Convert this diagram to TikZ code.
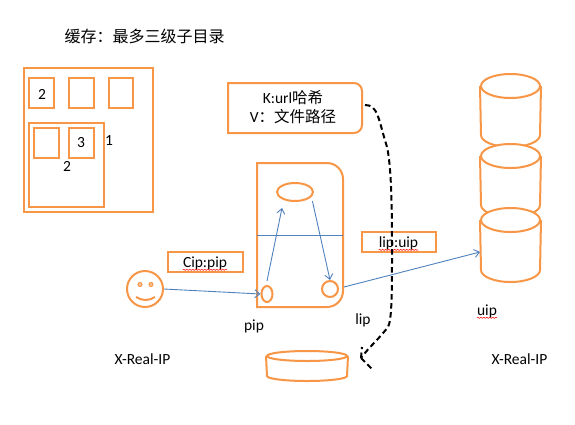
\documentclass[tikz,border=0pt]{standalone}
\usepackage{fontspec}
\setmainfont{Carlito}
\newfontfamily\cjk{Noto Sans CJK SC}
\newcommand{\cjklabelfont}{\fontsize{15.5}{18}\selectfont\cjk}
\usetikzlibrary{shapes.geometric,arrows.meta,decorations.pathmorphing}

\definecolor{boxorange}{HTML}{F79646}
\definecolor{linkblue}{HTML}{4F81BD}

\tikzset{
    boxline/.style = {draw=boxorange, line width=2pt},
    folder/.style = {boxline, rectangle, inner sep=0pt, minimum width=#1, minimum height=30pt},
    disc/.style = {boxline, ellipse, inner sep=0pt, fill=white},
    textlabel/.style = {inner sep=0pt, font=\fontsize{15.5}{18}\selectfont, text=black},
    cjklabel/.style = {inner sep=0pt, font=\fontsize{16}{18}\selectfont\cjk, text=black},
    link/.style = {draw=linkblue, line width=0.9pt},
    linkarrow/.style = {link, ->, >={Straight Barb[length=5pt,width=8pt]}},
    spell/.style = {draw=red, line width=0.5pt, decorate, decoration={snake, amplitude=0.6pt, segment length=3pt}},
    dashline/.style = {draw=black, line width=2pt, dash pattern=on 5.5pt off 3.5pt}
}

% Box with its upper right corner rounded: x1, y1, x2, y2, radius
\newcommand{\CornerBox}[5]{
    \draw[boxline] (#1,#2) [rounded corners=#5pt] -- (#3,#2) -- (#3,#4) [sharp corners] -- (#1,#4) -- cycle;
}
% Barrel: name, centre x, y of top ellipse, y of bottom, x radius, y radius
\newcommand{\Barrel}[6]{
    \node[disc, minimum width=#5*2pt, minimum height=#6*2pt] (#1) at (#2,#3) {};
    \draw[boxline] (#1.west) -- (#2-#5,#4-#6)
        .. controls +(0,.55*#6) and +(-.55*#5,0) .. (#2,#4)
        .. controls +(.55*#5,0) and +(0,.55*#6) .. (#2+#5,#4-#6) -- (#1.east);
}

\begin{document}
\begin{tikzpicture}[x=1pt,y=-1pt]
    \useasboundingbox (0,0) rectangle (575,424);

    % Cache folders
    \node[cjklabel] (title) at (144.5,36) {缓存：最多三级子目录};
    \draw[boxline] (24,68) rectangle (153,212);
    \draw[boxline] (29,123) rectangle (104,207);
    \node[folder=25pt] (dir1) at (41.5,93) {};
    \node[folder=25pt] (dir2) at (81.5,93) {};
    \node[folder=24pt] (dir3) at (121,93) {};
    \node[folder=25pt] (dir4) at (46.5,143) {};
    \node[folder=25pt] (dir5) at (81.5,143) {};
    \node[textlabel] (two1) at (42,94) {2};
    \node[textlabel] (three) at (81,143) {3};
    \node[textlabel] (one) at (109,141) {1};
    \node[textlabel] (two2) at (67,166) {2};

    % Key and value
    \CornerBox{228}{83}{362}{133}{8}
    \node[textlabel] (key) at (293,98) {K:url{\cjklabelfont 哈希}};
    \node[textlabel] (value) at (293,117) {V{\cjklabelfont ：文件路径}};
    \coordinate (keyout) at (365,105);

    % Server
    \CornerBox{257}{163}{343}{307}{16}
    \coordinate (serverw) at (257,235);
    \coordinate (servere) at (343,235);
    \node[disc, minimum width=36pt, minimum height=18pt] (cache) at (295,192) {};
    \node[disc, minimum width=11pt, minimum height=16pt] (pipdot) at (267,294) {};
    \node[disc, minimum width=16pt, minimum height=16pt] (lipdot) at (330,289) {};
    \draw[link] (serverw) -- (servere);

    % Client
    \node[boxline, circle, minimum size=36pt, inner sep=0pt] (client) at (145,289) {};
    \node[boxline, circle, minimum size=4pt, inner sep=0pt, line width=1pt, fill=boxorange!60] (eyel) at (140,284.5) {};
    \node[boxline, circle, minimum size=4pt, inner sep=0pt, line width=1pt, fill=boxorange!60] (eyer) at (151,284.5) {};
    \coordinate (mouthl) at (136,297);
    \coordinate (mouthr) at (155,297);
    \draw[boxline] (mouthl) .. controls (142,301) and (149,301) .. (mouthr);

    % Backends
    \Barrel{backa}{510.5}{86}{147}{29.5}{12}
    \Barrel{backb}{510.5}{156}{217}{29.5}{12}
    \Barrel{backc}{510.5}{220}{282}{29.5}{12}
    \Barrel{store}{307}{356}{381}{40}{5}

    % Address labels
    \draw[boxline] (168,252) rectangle (243,272);
    \draw[boxline] (362,232) rectangle (436,252);
    \node[textlabel] (cippip) at (205,263) {Cip:pip};
    \node[textlabel] (lipuip) at (398.5,243) {lip:uip};
    \node[textlabel] (pip) at (254,326) {pip};
    \node[textlabel] (lip) at (363,320) {lip};
    \node[textlabel] (uip) at (487,311) {uip};
    \node[textlabel] (realipa) at (142.5,359) {X-Real-IP};
    \node[textlabel] (realipb) at (519.5,359) {X-Real-IP};
    \draw[spell] (cippip.south west) -- (cippip.south east);
    \draw[spell] (lipuip.south west) -- (lipuip.south east);
    \draw[spell] (uip.south west) -- (uip.south east);

    % Links
    \draw[linkarrow] (client.east) -- (pipdot.west);
    \draw[linkarrow] (pipdot.north) ++(0,-4) -- (282,208);
    \draw[linkarrow] (cache.south east) ++(4,2) -- (lipdot.north);
    \draw[linkarrow] (lipdot.east) ++(5,-2) -- (backc.west |- 0,252);

    % Dashed path
    \coordinate (dashend) at (361,358);
    \coordinate (barba) at (362,347);
    \coordinate (barbb) at (373,370);
    \draw[dashline] (keyout) .. controls (378,105) and (378,118) .. (387,147)
        .. controls (391,165) and (392,200) .. (392,250)
        .. controls (392,290) and (392,320) .. (388,327)
        .. controls (378,340) and (370,346) .. (dashend);
    \draw[dashline] (dashend) -- (barba);
    \draw[dashline] (dashend) -- (barbb);
\end{tikzpicture}
\end{document}
